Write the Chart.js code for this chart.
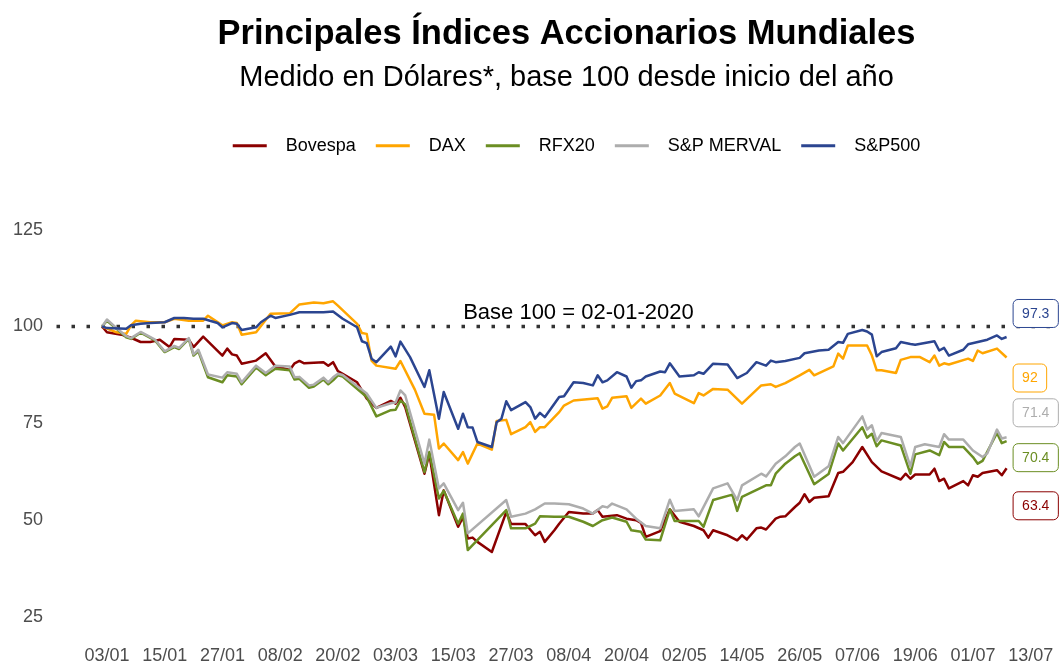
<!DOCTYPE html>
<html lang="es">
<head>
<meta charset="utf-8">
<title>Principales Índices Accionarios Mundiales</title>
<script src="https://cdn.jsdelivr.net/npm/chart.js@4.4.1/dist/chart.umd.min.js"></script>
<style>
  html, body { margin: 0; padding: 0; background: #fff; }
</style>
</head>
<body>
<canvas id="chart" width="1064" height="667"></canvas>
<script>
// ------------------- Data -------------------
// x = day of year 2020 (1 = 01/01), y = index value (base 100 = 02/01/2020)
const bovespa = [[2,100],[3,98.5],[6,97.9],[8,97.1],[10,96],[12,96],[14,96.6],[16,94.7],[17,96.8],[20,96.6],[21,94.7],[23,97.4],[27,92.5],[28,94.3],[29,92.8],[30,92.5],[31,90.4],[34,91.2],[36,93.1],[38,89.7],[39,89.4],[41,88.8],[42,90.5],[43,91.1],[44,90.5],[48,90.8],[49,89.9],[50,90.8],[51,88.5],[52,87.8],[55,85.6],[57,81.4],[59,79],[62,80.8],[63,80.1],[64,81.6],[65,79.2],[69,62],[70,67.2],[72,51.3],[73,57.7],[76,48.3],[77,50.8],[78,45.3],[79,45.5],[80,44.4],[83,41.8],[86,52.1],[87,49],[90,49],[92,46.1],[93,47],[94,44.4],[96,47.4],[97,49.1],[99,52.1],[102,51.7],[104,51.7],[105,52.6],[106,50.9],[109,51.3],[111,50.4],[113,50],[114,49.3],[115,45.7],[118,47.2],[120,52.8],[122,49.6],[125,48.5],[127,47.4],[128,45.5],[129,47.4],[132,46.1],[134,44.8],[135,46.1],[136,45],[138,47.9],[139,48.1],[140,47.6],[142,50.4],[143,50.9],[144,51],[146,53.4],[147,54.5],[148,56.7],[149,54.7],[150,55.8],[153,56.2],[155,62.2],[156,62.5],[158,65],[160,68.9],[162,65],[164,62.6],[168,60.5],[169,62],[170,60.7],[171,61.8],[174,61.8],[175,63.3],[176,60.1],[177,60.7],[178,58.2],[181,60.1],[182,59],[183,61.6],[184,61.2],[185,62.2],[188,62.9],[189,61.6],[190,63.4]];

const dax = [[2,100],[5,98.5],[7,98.1],[8,100.3],[9,101.5],[12,101.1],[15,101.1],[17,102],[20,101.5],[23,101.5],[24,102.8],[27,100.3],[29,101.1],[30,100.9],[31,97.9],[34,98.5],[37,103.3],[41,103.4],[43,105.7],[46,106.2],[48,106],[50,106.5],[51,105.4],[55,100.7],[56,98.3],[57,98.1],[58,91.2],[59,89.9],[63,89.1],[64,91.1],[67,83.7],[69,77.5],[71,77.2],[72,68.5],[73,69.8],[76,65.5],[77,67.6],[78,64.6],[80,69.8],[83,68.2],[84,75.6],[86,75.9],[87,72.2],[90,74],[91,75.3],[92,72.8],[93,74],[94,74],[97,77.9],[98,79.6],[100,80.9],[105,81.5],[106,78.8],[107,79.4],[108,81.6],[111,82],[112,79],[114,81.4],[115,80.1],[118,82.2],[120,85.4],[121,82.7],[125,80.2],[126,82.8],[127,82.2],[129,83.9],[132,83.7],[135,80.1],[139,84.8],[141,85.1],[142,84.4],[144,85.4],[147,87.4],[149,88.8],[150,87.4],[154,89.7],[155,93],[156,91.7],[157,95.1],[161,95.1],[162,92.5],[163,88.7],[164,88.7],[167,88],[168,91.4],[170,92.1],[172,92.1],[174,90.8],[175,92.5],[176,89.9],[177,90.5],[178,90.2],[182,91.7],[183,91.1],[184,93.8],[185,93.1],[188,94.3],[190,92]];

const rfx20 = [[2,100],[3,101.5],[5,99.4],[7,97.2],[8,96.8],[10,98.4],[13,96.4],[15,93.4],[17,94.7],[18,94.2],[20,96.8],[21,92.5],[22,93.6],[24,86.9],[27,85.6],[28,87.4],[30,87.1],[31,85.1],[34,89.4],[36,87.4],[38,89.1],[41,88.7],[42,86.3],[43,86.5],[45,84.2],[46,84.5],[48,86.3],[49,85.1],[50,86.1],[51,87.4],[52,87.1],[57,81.8],[59,76.8],[62,78.4],[63,78.5],[64,80.9],[65,79.9],[69,62.4],[70,67.6],[72,55.6],[73,57.6],[76,49.1],[77,51.7],[78,42.3],[86,52.6],[87,47.9],[90,47.9],[92,49.1],[93,51],[96,50.9],[99,50.9],[102,49.6],[104,48.5],[106,50],[108,50.7],[111,49.6],[112,47.4],[114,47],[115,45],[118,44.8],[120,52.8],[121,49.8],[126,49.8],[127,48.3],[129,55.2],[133,56.6],[134,52.4],[135,56],[140,59],[141,59],[142,62],[144,64.6],[146,66.5],[147,67.3],[150,59.3],[153,61.9],[155,69.8],[156,68],[160,74],[161,71.3],[162,72.3],[163,69.1],[164,70.6],[168,69.3],[170,62],[171,67],[174,68],[176,66.8],[177,70.2],[178,68.9],[181,68.9],[183,66.3],[184,64.6],[185,65.3],[188,72.5],[189,69.9],[190,70.4]];

const merval = [[2,100],[3,101.8],[5,99.6],[7,97.5],[8,97],[10,98.6],[13,96.6],[15,93.6],[17,95],[18,94.5],[20,97],[21,92.8],[22,94],[24,87.6],[27,86.8],[28,88.2],[30,87.8],[31,85.6],[34,89.9],[36,88],[38,89.9],[41,89.7],[42,86.9],[43,87],[45,84.8],[46,85],[48,86.8],[49,85.6],[50,86.9],[51,87.8],[52,87.5],[57,82.7],[59,79],[62,80.2],[63,80.4],[64,83.5],[65,82.2],[69,64.6],[70,70.8],[72,58.2],[73,59.5],[76,52.6],[77,54.5],[78,46.6],[86,55.2],[87,50.9],[90,51.7],[92,52.8],[94,54.3],[96,54.3],[99,54.1],[102,53],[104,51.7],[106,53.6],[107,53.3],[108,54.3],[111,52.8],[113,50.4],[115,48.5],[118,47.9],[120,55.3],[121,52.4],[125,52.8],[126,51],[129,58.2],[132,59.5],[134,55.2],[135,59],[139,62],[140,61.3],[142,64.6],[144,66.5],[146,68.9],[147,69.8],[150,61.2],[153,63.9],[155,71.5],[156,69.9],[160,76.8],[161,73.4],[162,74.5],[163,70.4],[164,72.5],[168,71.5],[170,63.9],[171,68.9],[173,69.6],[176,68.9],[177,72.2],[178,70.8],[181,70.8],[183,68],[185,66.3],[186,67.3],[188,73.4],[189,71.1],[190,71.4]];

const sp500 = [[2,100],[3,99.6],[7,99.4],[8,100.3],[10,100.7],[12,100.9],[15,101.1],[17,102.2],[19,102.2],[21,102],[23,102],[26,100.9],[27,99.8],[29,100.9],[30,100.7],[31,99.1],[34,99.8],[35,101.1],[37,102.8],[38,102.2],[41,103],[43,103.7],[48,103.7],[50,103.9],[52,102],[55,99.8],[56,96.2],[57,95.7],[58,91.7],[59,90.8],[62,94.8],[63,92.3],[64,96.1],[66,92.1],[69,84.4],[70,88.7],[72,76.2],[73,83.1],[76,73.6],[77,77.5],[78,74],[79,73.9],[80,70.2],[83,68.9],[84,75.3],[85,76.2],[86,80.7],[87,78.4],[90,80.5],[91,79.2],[92,76.2],[93,77.7],[94,76.6],[97,81.8],[98,82],[100,85.6],[102,85.4],[104,84.8],[105,87.4],[106,85.6],[107,86.1],[109,88.2],[111,87.1],[112,84.2],[113,85.9],[114,86.1],[115,87.1],[118,88.4],[119,88.2],[120,90.5],[122,87.1],[125,87.4],[126,88.2],[127,87.8],[129,90.4],[132,90.2],[134,86.7],[136,88],[138,90.8],[140,89.9],[141,91.2],[142,90.8],[144,91.1],[147,91.9],[148,93.1],[151,93.8],[153,94],[155,96],[156,95.8],[157,98.1],[160,99.1],[161,98.7],[162,97.9],[163,92.3],[164,93.4],[167,94.4],[168,96],[170,95.5],[171,95.3],[175,96.2],[176,93.8],[177,94.5],[178,92.5],[181,94],[182,95.4],[186,96.6],[188,97.7],[189,96.8],[190,97.3]];

const seriesNames  = ["Bovespa", "DAX", "RFX20", "S&P MERVAL", "S&P500"];
const seriesData   = [bovespa, dax, rfx20, merval, sp500];
const seriesColors = ["#8B0000", "#FFA500", "#6B8E23", "#ADADAD", "#2B4590"];

const tickDays   = [3, 15, 27, 39, 51, 63, 75, 87, 99, 111, 123, 135, 147, 159, 171, 183, 195];
const tickLabels = ["03/01","15/01","27/01","08/02","20/02","03/03","15/03","27/03","08/04","20/04","02/05","14/05","26/05","07/06","19/06","01/07","13/07"];
const yTicks     = [25, 50, 75, 100, 125];

const baseValue = 100;
const baseText  = "Base 100 = 02-01-2020";
const baseTextDay = 101;

// ------------------- Axis range -------------------
const X_MIN = -7.8, X_MAX = 201.1;
const Y_MIN = 20.36, Y_MAX = 141.75;

const FONT = '"Liberation Sans", Arial, Helvetica, sans-serif';
Chart.defaults.font.family = FONT;

// ------------------- Plugins -------------------
// header blocks in the reference sit a bit right of the plot centre
const headerShift = {
  id: "headerShift",
  afterLayout(chart, args, opts) {
    chart.boxes.forEach(b => {
      if (b.position !== "top" || b.axis) return;
      const dx = b === chart.legend ? opts.legend : opts.title;
      b.left += dx;
      b.right += dx;
    });
  }
};

const annotations = {
  id: "annotations",
  afterDatasetsDraw(chart, args, opts) {
    const { ctx, scales } = chart;
    ctx.save();

    // base 100 caption
    ctx.font = "22px " + FONT;
    ctx.fillStyle = "#000";
    ctx.textAlign = "center";
    ctx.textBaseline = "middle";
    ctx.fillText(baseText, scales.x.getPixelForValue(baseTextDay), scales.y.getPixelForValue(baseValue) - 14);

    // end-of-line value boxes
    ctx.font = "14px " + FONT;
    ctx.textAlign = "left";
    chart.data.datasets.forEach(ds => {
      if (!ds.endLabel) return;
      const last = ds.data[ds.data.length - 1];
      const text = String(last.y);
      const w = ctx.measureText(text).width + 18;
      const h = 28;
      const x = scales.x.getPixelForValue(last.x) + 6;
      const yc = scales.y.getPixelForValue(last.y) + (opts.nudge[ds.label] || 0);
      ctx.beginPath();
      ctx.roundRect(x + 0.5, yc - h / 2 + 0.5, w, h, 5);
      ctx.fillStyle = "#fff";
      ctx.fill();
      ctx.lineWidth = 1;
      ctx.strokeStyle = ds.borderColor;
      ctx.stroke();
      ctx.fillStyle = ds.borderColor;
      ctx.fillText(text, x + 9.5, yc + 1);
    });
    ctx.restore();
  }
};

// ------------------- Chart -------------------
const datasets = seriesNames.map((name, i) => ({
  label: name,
  data: seriesData[i].map(p => ({ x: p[0], y: p[1] })),
  borderColor: seriesColors[i],
  backgroundColor: seriesColors[i],
  borderWidth: 2.5,
  borderJoinStyle: "round",
  pointRadius: 0,
  tension: 0,
  order: seriesNames.length - i,
  endLabel: true
}));

datasets.push({
  label: "base",
  data: [{ x: X_MIN, y: baseValue }, { x: X_MAX, y: baseValue }],
  borderColor: "#333333",
  borderWidth: 3.5,
  borderDash: [3.5, 11.5],
  borderDashOffset: -1.5,
  borderCapStyle: "butt",
  pointRadius: 0,
  order: 20
});

new Chart(document.getElementById("chart"), {
  type: "line",
  data: { datasets },
  plugins: [headerShift, annotations],
  options: {
    responsive: false,
    animation: false,
    events: [],
    layout: { padding: { top: 0, right: 4, bottom: 0, left: 0 } },
    plugins: {
      title: {
        display: true,
        text: "Principales Índices Accionarios Mundiales",
        color: "#000",
        fullSize: false,
        font: { size: 34.5, weight: "bold" },
        padding: { top: 13.5, bottom: 0 }
      },
      subtitle: {
        display: true,
        text: "Medido en Dólares*, base 100 desde inicio del año",
        color: "#000",
        fullSize: false,
        font: { size: 29, weight: "normal" },
        padding: { top: 6, bottom: 21.1 }
      },
      legend: {
        display: true,
        fullSize: false,
        reverse: true,
        labels: {
          color: "#000",
          font: { size: 18 },
          boxWidth: 34,
          boxHeight: 3,
          padding: 20,
          filter: item => item.text.trim() !== "base",
          generateLabels: chart =>
            Chart.defaults.plugins.legend.labels.generateLabels(chart).map(item => ({
              ...item, text: "  " + item.text, lineWidth: 0
            }))
        }
      },
      tooltip: { enabled: false },
      headerShift: { title: 9, legend: 19 },
      annotations: {
        nudge: { "S&P500": -24, "DAX": 20, "S&P MERVAL": -25, "RFX20": 16, "Bovespa": 37 }
      }
    },
    scales: {
      x: {
        type: "linear",
        min: X_MIN,
        max: X_MAX,
        border: { display: false },
        grid: { display: false, drawTicks: false },
        afterBuildTicks: s => { s.ticks = tickDays.map(v => ({ value: v })); },
        afterFit: s => { s.height = 32; },
        ticks: {
          autoSkip: false,
          maxRotation: 0,
          padding: 10,
          color: "#4D4D4D",
          font: { size: 18 },
          callback: (v, i) => tickLabels[i]
        }
      },
      y: {
        min: Y_MIN,
        max: Y_MAX,
        border: { display: false },
        grid: { display: false, drawTicks: false },
        afterBuildTicks: s => { s.ticks = yTicks.map(v => ({ value: v })); },
        afterFit: s => { s.width = 55; },
        ticks: {
          padding: 12,
          color: "#4D4D4D",
          font: { size: 18 }
        }
      }
    }
  }
});
</script>
</body>
</html>
